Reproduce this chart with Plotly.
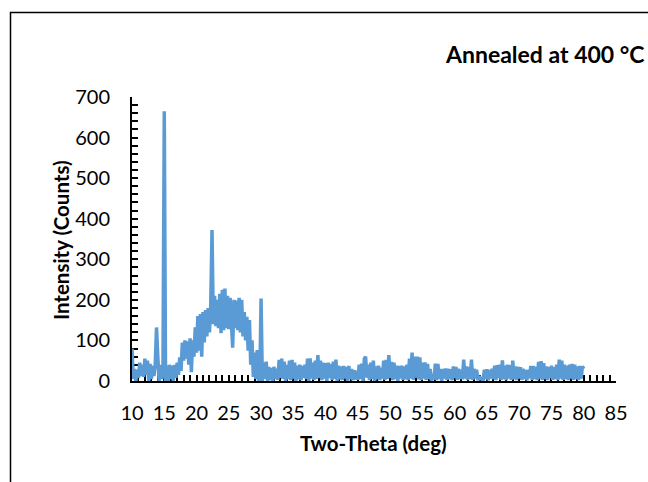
import numpy as np
import plotly.graph_objects as go

# Scan grid (degrees 2-theta): start, step
scan_start = 10.0
scan_step = 0.2
# Intensity (counts), 5 readings per degree, 10.0 .. 80.0
intensity = [
    80, 5, 30, 0, 28,        # 10
    8, 45, 12, 40, 10,       # 11
    55, 15, 50, 0, 42,       # 12
    5, 38, 12, 40, 132,      # 13
    60, 0, 40, 5, 30,        # 14
    665, 0, 38, 0, 40,       # 15
    5, 38, 0, 40, 8,         # 16
    45, 15, 58, 25, 95,      # 17
    50, 100, 55, 98, 40,     # 18
    105, 22, 100, 60, 132,   # 19
    70, 160, 75, 165, 60,    # 20
    170, 95, 175, 110, 180,  # 21
    120, 185, 372, 140, 210, # 22
    135, 200, 130, 215, 118, # 23
    225, 125, 228, 130, 210, # 24
    128, 205, 120, 82, 200,  # 25
    130, 198, 125, 205, 120, # 26
    200, 110, 170, 100, 158, # 27
    75, 150, 40, 100, 10,    # 28
    70, 5, 76, 0, 0,         # 29
    203, 0, 45, 5, 48,       # 30
    0, 35, 2, 32, 0,         # 31
    35, 5, 30, 3, 52,        # 32
    8, 55, 5, 48, 0,         # 33
    40, 5, 50, 2, 52,        # 34
    6, 45, 0, 38, 4,         # 35
    40, 2, 37, 8, 40,        # 36
    5, 55, 0, 56, 6,         # 37
    45, 3, 50, 5, 64,        # 38
    8, 50, 2, 45, 6,         # 39
    44, 0, 45, 7, 42,        # 40
    3, 48, 5, 53, 0,         # 41
    38, 4, 36, 2, 37,        # 42
    6, 35, 0, 37, 5,         # 43
    30, 2, 27, 4, 25,        # 44
    3, 40, 5, 43, 0,         # 45
    55, 60, 8, 40, 2,        # 46
    45, 5, 50, 0, 36,        # 47
    4, 38, 2, 33, 6,         # 48
    50, 3, 52, 5, 64,        # 49
    8, 47, 2, 45, 5,         # 50
    38, 0, 37, 6, 38,        # 51
    3, 36, 4, 40, 2,         # 52
    55, 6, 70, 3, 60,        # 53
    8, 60, 4, 58, 2,         # 54
    45, 6, 46, 3, 42,        # 55
    5, 30, 0, 18, 4,         # 56
    43, 2, 42, 5, 30,        # 57
    0, 30, 6, 31, 3,         # 58
    30, 5, 29, 2, 36,        # 59
    7, 35, 3, 30, 5,         # 60
    28, 4, 53, 6, 36,        # 61
    2, 35, 5, 53, 3,         # 62
    30, 6, 28, 2, 12,        # 63
    3, 10, 0, 28, 5,         # 64
    29, 2, 27, 6, 30,        # 65
    4, 38, 2, 39, 7,         # 66
    40, 3, 51, 5, 38,        # 67
    2, 40, 6, 39, 3,         # 68
    50, 5, 36, 2, 35,        # 69
    6, 34, 3, 30, 5,         # 70
    27, 2, 28, 7, 37,        # 71
    3, 37, 5, 35, 2,         # 72
    47, 6, 49, 3, 44,        # 73
    5, 36, 2, 35, 7,         # 74
    38, 3, 34, 5, 40,        # 75
    2, 53, 6, 50, 3,         # 76
    40, 5, 38, 2, 40,        # 77
    6, 42, 3, 40, 5,         # 78
    36, 2, 37, 6, 36,        # 79
    30,                      # 80
]
two_theta = np.round(scan_start + scan_step * np.arange(len(intensity)), 2)

x_ticks = list(range(10, 86, 5))
y_ticks = list(range(0, 701, 100))

title_text = "Annealed at 400 °C"
x_title = "Two-Theta (deg)"
y_title = "Intensity (Counts)"

W, H = 648, 482
FONT = "Lato"
LINE_COLOR = "#5B9BD5"

fig = go.Figure()
fig.add_trace(go.Scatter(
    x=two_theta, y=intensity, mode="lines",
    line=dict(color=LINE_COLOR, width=3.5),
    showlegend=False, hoverinfo="skip",
))

fig.update_layout(
    width=W, height=H,
    margin=dict(l=0, r=0, t=0, b=0, autoexpand=False),
    paper_bgcolor="white", plot_bgcolor="white",
    font=dict(family=FONT, color="black", size=20),
    xaxis=dict(
        domain=[132 / W, 616 / W],
        range=[10, 85], tickvals=x_ticks, ticktext=[str(v) for v in x_ticks],
        showgrid=False, zeroline=False,
        showline=True, linecolor="black", linewidth=2,
        ticks="inside", ticklen=6, tickwidth=2, tickcolor="black",
        minor=dict(dtick=1, ticks="inside", ticklen=6, tickwidth=2, tickcolor="black", showgrid=False),
        ticklabelstandoff=13,
        tickfont=dict(family=FONT, size=20, color="black"),
        layer="below traces",
    ),
    yaxis=dict(
        domain=[1 - 381 / H, 1 - 97 / H],
        range=[0, 700], tickvals=y_ticks, ticktext=[str(v) for v in y_ticks],
        showgrid=False, zeroline=False,
        showline=True, linecolor="black", linewidth=2,
        ticks="inside", ticklen=6, tickwidth=2, tickcolor="black",
        minor=dict(dtick=20, ticks="inside", ticklen=6, tickwidth=2, tickcolor="black", showgrid=False),
        ticklabelstandoff=16,
        tickfont=dict(family=FONT, size=20, color="black"),
        layer="below traces",
    ),
    shapes=[dict(
        type="rect", xref="paper", yref="paper",
        x0=10.5 / W, x1=(W + 10) / W, y0=-10 / H, y1=1 - 12.5 / H,
        line=dict(color="black", width=1.5), fillcolor="rgba(0,0,0,0)",
    )],
    annotations=[
        dict(text="<b>" + title_text + "</b>", xref="paper", yref="paper",
             x=647 / W, y=1 - 54 / H, xanchor="right", yanchor="middle",
             showarrow=False, font=dict(family=FONT, size=23, color="black")),
        dict(text="<b>" + x_title + "</b>", xref="paper", yref="paper",
             x=373 / W, y=1 - 443 / H, xanchor="center", yanchor="middle",
             showarrow=False, font=dict(family=FONT, size=20.5, color="black")),
        dict(text="<b>" + y_title + "</b>", xref="paper", yref="paper",
             x=61 / W, y=1 - 240 / H, xanchor="center", yanchor="middle",
             textangle=-90, showarrow=False, font=dict(family=FONT, size=20.5, color="black")),
    ],
)

fig.write_html("out.html")
